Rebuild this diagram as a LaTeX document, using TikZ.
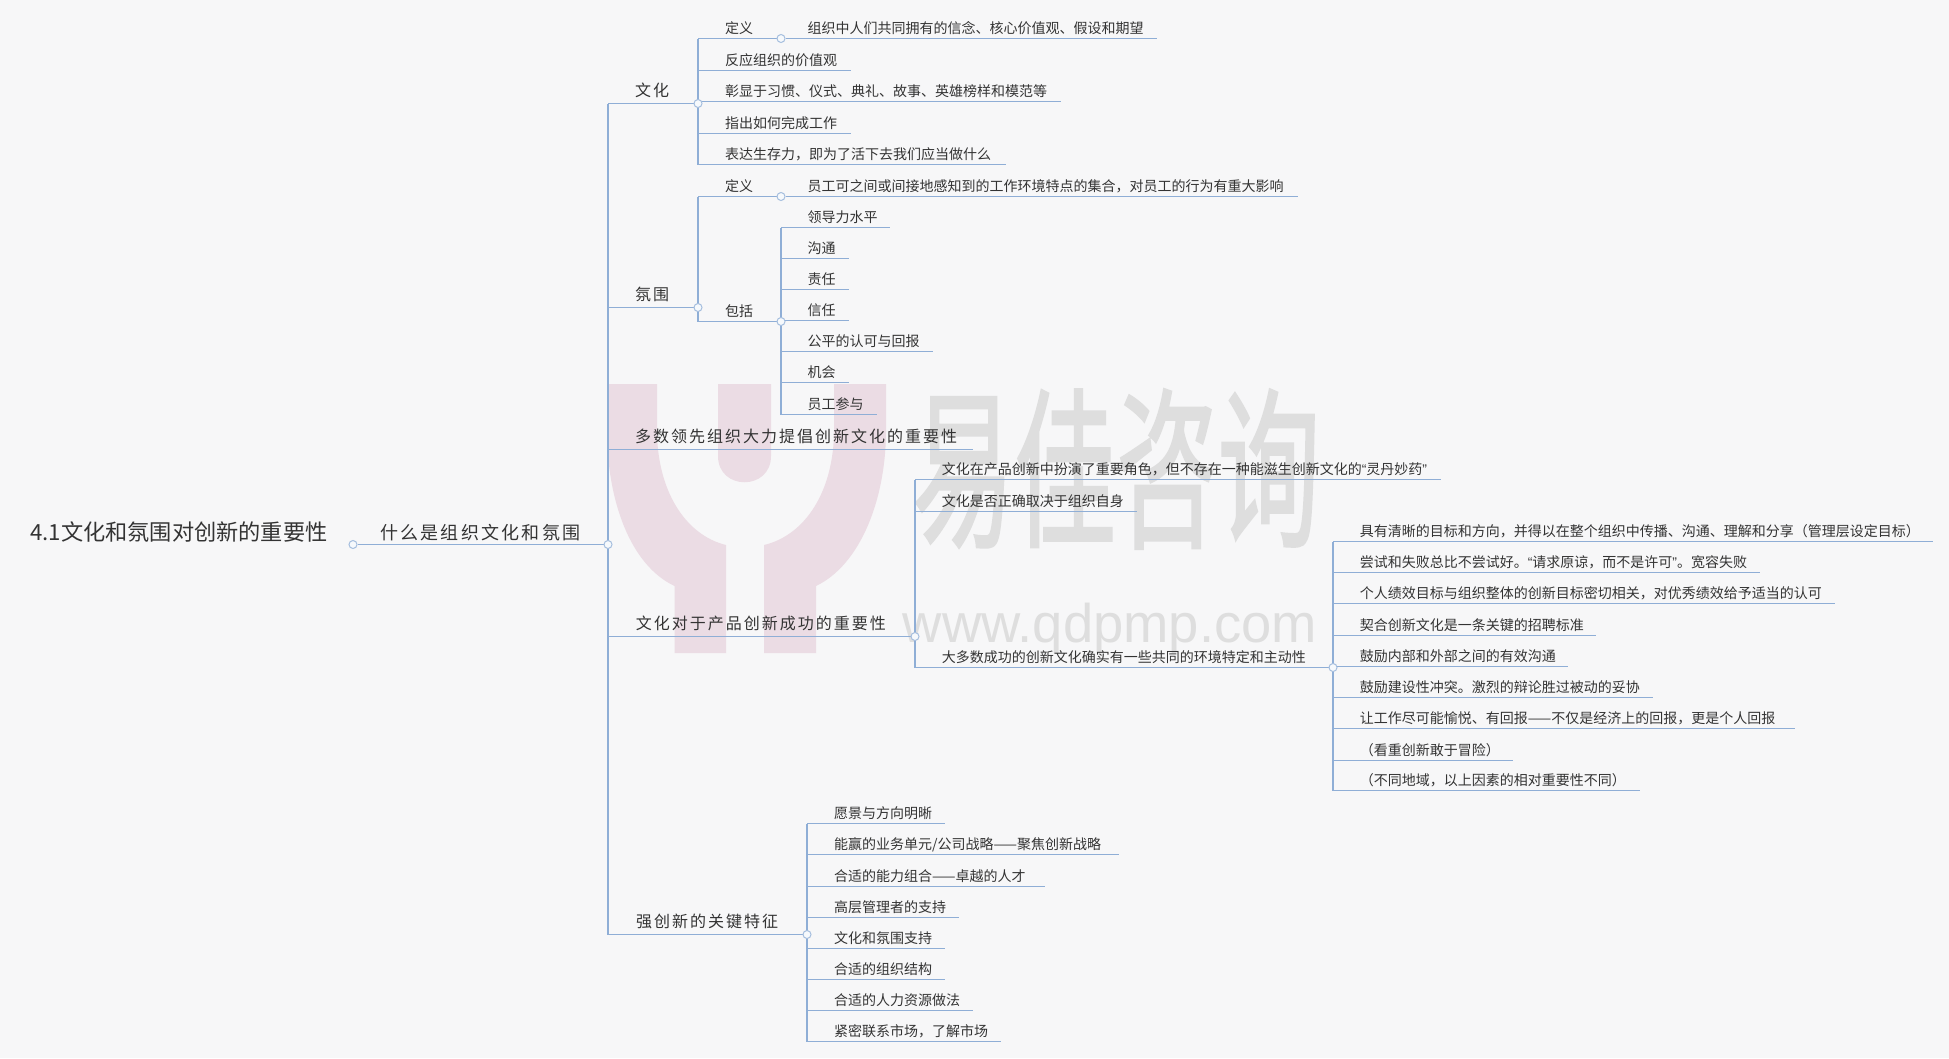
\documentclass[tikz,border=0pt]{standalone}
\usepackage{fontspec}
\setmainfont{Noto Sans CJK SC}
\newfontfamily\widecjk[LetterSpace=12.5]{Noto Sans CJK SC}
\newfontfamily\markcjk[FakeBold=1.6]{Noto Sans CJK SC}
\newfontfamily\quotefont{Liberation Sans}
\newcommand{\lqt}{{\quotefont “}}
\newcommand{\rqt}{{\quotefont ”}}
\usetikzlibrary{backgrounds}
\definecolor{pageGray}{HTML}{F7F7F8}
\definecolor{linkBlue}{HTML}{8FAED6}
\definecolor{inkGray}{HTML}{333333}
\definecolor{logoPink}{HTML}{EBDCE4}
\definecolor{markGray}{HTML}{DEDEDE}
\tikzset{
	leaf/.style={anchor=south west, inner xsep=0pt, inner ysep=5pt, text depth=0pt, align=left, text=inkGray, font=\fontsize{14}{16}\selectfont},
	branch/.style={leaf, inner ysep=6.5pt, font=\widecjk\fontsize{16}{18}\selectfont},
	joint/.style={circle, draw=linkBlue!80!white, fill=white!92!linkBlue, line width=1pt, inner sep=0pt, minimum size=8pt},
	link/.style={draw=linkBlue, line width=1pt},
	spine/.style={draw=linkBlue, line width=2pt}
}

\begin{document}
\begin{tikzpicture}[x=1pt, y=-1pt]

	% --- page and watermark
	\begin{scope}[on background layer]
		\fill[pageGray] (0,0) rectangle (1949,1058);
		\fill[logoPink] (607,384) -- (657,384) -- (657,430) .. controls (657,490) and (685,535) .. (726,545) -- (726,653) -- (674.5,653) -- (674.5,586) .. controls (630,565) and (607,500) .. (607,430) -- cycle;
		\fill[logoPink] (886,384) -- (834,384) -- (834,430) .. controls (834,490) and (806,535) .. (764,545) -- (764,653) -- (816,653) -- (816,586) .. controls (860,565) and (886,500) .. (886,430) -- cycle;
		\fill[logoPink] (718,384) -- (771,384) -- (771,456) .. controls (771,491) and (718,491) .. (718,456) -- cycle;
		\node[text=markGray, font=\markcjk\fontsize{102}{102}\selectfont] (wmName) at (1116,469) {\scalebox{1}[1.68]{易佳咨询}};
		\node[text=markGray, font=\fontspec{Liberation Sans}\fontsize{54.4}{56}\selectfont] (wmSite) at (1110,628) {www.qdpmp.com};
	\end{scope}

	% --- root
	\node[anchor=base west, inner sep=0pt, text=inkGray, font=\fontsize{22.2}{24}\selectfont] (title) at (30,540) {4.1文化和氛围对创新的重要性};
	\node[joint] (jRoot) at (353,544.5) {};
	\node[branch, inner ysep=5pt, text width=224pt, font=\widecjk\fontsize{18}{20}\selectfont] (topic) at (380,544.5) {什么是组织文化和氛围};
	\node[joint] (jMain) at (608,544.5) {};

	% --- second level
	\node[branch, text width=59pt] (nCulture) at (635,103.5) {文化};
	\node[branch, text width=59pt] (nClimate) at (635,307.5) {氛围};
	\node[branch, text width=338pt] (nLead) at (635,449.5) {多数领先组织大力提倡创新文化的重要性};
	\node[branch, text width=275pt] (nProduct) at (635.7,636.5) {文化对于产品创新成功的重要性};
	\node[branch, text width=167pt] (nKey) at (636,934.5) {强创新的关键特征};
	\node[joint] (jCulture) at (698,103.5) {};
	\node[joint] (jClimate) at (698,307.5) {};
	\node[joint] (jProduct) at (915,636.5) {};
	\node[joint] (jKey) at (807,934.5) {};

	% --- culture
	\node[leaf, text width=52pt] (cDef) at (725,38.5) {定义};
	\node[joint] (jCDef) at (781,38.5) {};
	\node[leaf, text width=349.5pt] (cDefText) at (807.5,38.5) {组织中人们共同拥有的信念、核心价值观、假设和期望};
	\node[leaf, text width=126pt] (cValue) at (725,70.5) {反应组织的价值观};
	\node[leaf, text width=336pt] (cHabit) at (725,101.5) {彰显于习惯、仪式、典礼、故事、英雄榜样和模范等};
	\node[leaf, text width=126pt] (cWork) at (725,133.5) {指出如何完成工作};
	\node[leaf, text width=281pt] (cLive) at (725,164.5) {表达生存力，即为了活下去我们应当做什么};

	% --- climate
	\node[leaf, text width=52pt] (kDef) at (725,196.5) {定义};
	\node[joint] (jKDef) at (781,196.5) {};
	\node[leaf, text width=490.5pt] (kDefText) at (807.5,196.5) {员工可之间或间接地感知到的工作环境特点的集合，对员工的行为有重大影响};
	\node[leaf, text width=52pt] (kHas) at (725,321.5) {包括};
	\node[joint] (jKHas) at (781,321.5) {};
	\node[leaf, text width=82.5pt] (kLead) at (807.5,227.5) {领导力水平};
	\node[leaf, text width=41.5pt] (kTalk) at (807.5,258.5) {沟通};
	\node[leaf, text width=41.5pt] (kDuty) at (807.5,289.5) {责任};
	\node[leaf, text width=41.5pt] (kTrust) at (807.5,320.5) {信任};
	\node[leaf, text width=125pt] (kFair) at (807.5,351.5) {公平的认可与回报};
	\node[leaf, text width=41.5pt] (kChance) at (807.5,382.5) {机会};
	\node[leaf, text width=69.5pt] (kJoin) at (807.5,414.5) {员工参与};

	% --- product innovation
	\node[leaf, text width=499pt] (pRole) at (941.6,479.5) {文化在产品创新中扮演了重要角色，但不存在一种能滋生创新文化的\lqt 灵丹妙药\rqt};
	\node[leaf, text width=195.4pt] (pSelf) at (941.6,511.5) {文化是否正确取决于组织自身};
	\node[leaf, text width=387.4pt] (pBest) at (941.6,667.5) {大多数成功的创新文化确实有一些共同的环境特定和主动性};
	\node[joint] (jBest) at (1333,667.5) {};
	\node[leaf, text width=573.4pt] (bGoal) at (1359.6,541.5) {具有清晰的目标和方向，并得以在整个组织中传播、沟通、理解和分享（管理层设定目标）};
	\node[leaf, text width=400.4pt] (bFail) at (1359.6,572.5) {尝试和失败总比不尝试好。\lqt 请求原谅，而不是许可\rqt 。宽容失败};
	\node[leaf, text width=475pt] (bAim) at (1359.6,603.5) {个人绩效目标与组织整体的创新目标密切相关，对优秀绩效给予适当的认可};
	\node[leaf, text width=236.4pt] (bHire) at (1359.6,635.5) {契合创新文化是一条关键的招聘标准};
	\node[leaf, text width=208.4pt] (bTalk) at (1359.6,666.5) {鼓励内部和外部之间的有效沟通};
	\node[leaf, text width=293pt] (bConflict) at (1359.6,697.5) {鼓励建设性冲突。激烈的辩论胜过被动的妥协};
	\node[leaf, text width=434.9pt] (bJoy) at (1359.6,728.5) {让工作尽可能愉悦、有回报——不仅是经济上的回报，更是个人回报};
	\node[leaf, text width=153.4pt] (bRisk) at (1359.6,760.5) {（看重创新敢于冒险）};
	\node[leaf, text width=280.4pt] (bRegion) at (1359.6,790.5) {（不同地域，以上因素的相对重要性不同）};

	% --- key features
	\node[leaf, text width=111pt] (fVision) at (834,823.5) {愿景与方向明晰};
	\node[leaf, text width=285pt] (fWin) at (834,854.5) {能赢的业务单元/公司战略——聚焦创新战略};
	\node[leaf, text width=210.6pt] (fSkill) at (834,886.5) {合适的能力组合——卓越的人才};
	\node[leaf, text width=125pt] (fBoss) at (834,917.5) {高层管理者的支持};
	\node[leaf, text width=111pt] (fCulture) at (834,948.5) {文化和氛围支持};
	\node[leaf, text width=111pt] (fOrg) at (834,979.5) {合适的组织结构};
	\node[leaf, text width=139pt] (fHuman) at (834,1010.5) {合适的人力资源做法};
	\node[leaf, text width=166.6pt] (fMarket) at (834,1041.5) {紧密联系市场，了解市场};

	% --- connectors, under the joints
	\begin{scope}[on background layer]
		\draw[spine] (jMain |- nCulture.south) -- (jMain |- nKey.south);
		\draw[spine] (jCulture |- cDef.south) -- (jCulture |- cLive.south);
		\draw[spine] (jClimate |- kDef.south) -- (jClimate |- kHas.south);
		\draw[spine] (jKHas |- kLead.south) -- (jKHas |- kJoin.south);
		\draw[spine] (jProduct |- pRole.south) -- (jProduct |- pBest.south);
		\draw[spine] (jBest |- bGoal.south) -- (jBest |- bRegion.south);
		\draw[spine] (jKey |- fVision.south) -- (jKey |- fMarket.south);

		\draw[link] (jRoot) -- (topic.south east);
		\draw[link] (topic.south east) -- (jMain);
		\draw[link] (jMain) |- (nCulture.south east);
		\draw[link] (nCulture.south east) -- (jCulture);
		\draw[link] (jMain) |- (nClimate.south east);
		\draw[link] (nClimate.south east) -- (jClimate);
		\draw[link] (jMain) |- (nLead.south east);
		\draw[link] (jMain) |- (nProduct.south east);
		\draw[link] (nProduct.south east) -- (jProduct);
		\draw[link] (jMain) |- (nKey.south east);
		\draw[link] (nKey.south east) -- (jKey);

		\draw[link] (jCulture) |- (cDef.south east);
		\draw[link] (cDef.south east) -- (jCDef);
		\draw[link] (jCDef) -- (cDefText.south east);
		\draw[link] (jCulture) |- (cValue.south east);
		\draw[link] (jCulture) |- (cHabit.south east);
		\draw[link] (jCulture) |- (cWork.south east);
		\draw[link] (jCulture) |- (cLive.south east);

		\draw[link] (jClimate) |- (kDef.south east);
		\draw[link] (kDef.south east) -- (jKDef);
		\draw[link] (jKDef) -- (kDefText.south east);
		\draw[link] (jClimate) |- (kHas.south east);
		\draw[link] (kHas.south east) -- (jKHas);
		\draw[link] (jKHas) |- (kLead.south east);
		\draw[link] (jKHas) |- (kTalk.south east);
		\draw[link] (jKHas) |- (kDuty.south east);
		\draw[link] (jKHas) |- (kTrust.south east);
		\draw[link] (jKHas) |- (kFair.south east);
		\draw[link] (jKHas) |- (kChance.south east);
		\draw[link] (jKHas) |- (kJoin.south east);

		\draw[link] (jProduct) |- (pRole.south east);
		\draw[link] (jProduct) |- (pSelf.south east);
		\draw[link] (jProduct) |- (pBest.south east);
		\draw[link] (pBest.south east) -- (jBest);
		\draw[link] (jBest) |- (bGoal.south east);
		\draw[link] (jBest) |- (bFail.south east);
		\draw[link] (jBest) |- (bAim.south east);
		\draw[link] (jBest) |- (bHire.south east);
		\draw[link] (jBest) |- (bTalk.south east);
		\draw[link] (jBest) |- (bConflict.south east);
		\draw[link] (jBest) |- (bJoy.south east);
		\draw[link] (jBest) |- (bRisk.south east);
		\draw[link] (jBest) |- (bRegion.south east);

		\draw[link] (jKey) |- (fVision.south east);
		\draw[link] (jKey) |- (fWin.south east);
		\draw[link] (jKey) |- (fSkill.south east);
		\draw[link] (jKey) |- (fBoss.south east);
		\draw[link] (jKey) |- (fCulture.south east);
		\draw[link] (jKey) |- (fOrg.south east);
		\draw[link] (jKey) |- (fHuman.south east);
		\draw[link] (jKey) |- (fMarket.south east);
	\end{scope}

\end{tikzpicture}
\end{document}
